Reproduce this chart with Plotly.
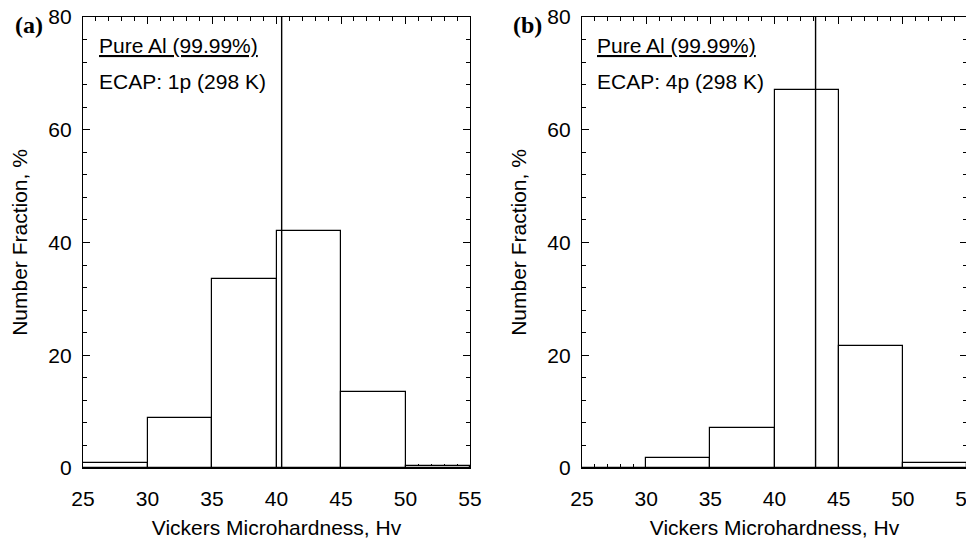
import plotly.graph_objects as go

# ---- data ----
bin_left = [25, 30, 35, 40, 45, 50]
bin_width = 5
frac_1p = [0.8, 8.9, 33.5, 42.1, 13.4, 0.4]
frac_4p = [0.0, 1.7, 7.1, 67.0, 21.6, 0.8]
mean_hv = [40.4, 43.2]
panel_labels = ["(a)", "(b)"]
alloy_text = "Pure Al (99.99%)"
ecap_text = ["ECAP: 1p (298 K)", "ECAP: 4p (298 K)"]
x_ticks = [25, 30, 35, 40, 45, 50, 55]
y_ticks = [0, 20, 40, 60, 80]
x_title = "Vickers Microhardness, Hv"
y_title = "Number Fraction, %"

W, H = 974, 543
OFF = 8  # page body margin offset
FONT = "Liberation Sans, Arial, sans-serif"

fig = go.Figure()

TOP, BOT = 17 - OFF, 468 - OFF
dom_x = [[(83 - OFF) / W, (470 - OFF) / W], [(582 - OFF) / W, (967 - OFF) / W]]
dom_y = [(H - BOT) / H, (H - TOP) / H]

series = [frac_1p, frac_4p]
for i in range(2):
    xa = "x" if i == 0 else "x2"
    ya = "y" if i == 0 else "y2"
    fig.add_trace(go.Bar(
        x=[b + bin_width / 2 for b in bin_left],
        y=series[i],
        width=[bin_width] * len(bin_left),
        marker=dict(color="white", line=dict(color="black", width=1.2)),
        xaxis=xa, yaxis=ya, showlegend=False,
    ))
    fig.add_trace(go.Scatter(
        x=[mean_hv[i], mean_hv[i]], y=[y_ticks[0], y_ticks[-1]],
        mode="lines", line=dict(color="black", width=1.4),
        xaxis=xa, yaxis=ya, showlegend=False, cliponaxis=False,
    ))

axis_common = dict(
    showline=True, linecolor="black", linewidth=1.4, mirror="allticks",
    ticks="inside", ticklen=7, tickwidth=1.2, tickcolor="black",
    showgrid=False, zeroline=False, automargin=False,
    layer="below traces", ticklabeloverflow="allow",
    tickfont=dict(family=FONT, size=21, color="black"),
)

for i in range(2):
    sx = "" if i == 0 else "2"
    fig.layout["xaxis" + sx] = dict(
        axis_common, domain=dom_x[i], range=[x_ticks[0], x_ticks[-1]],
        tickvals=x_ticks, anchor="y" + sx,
        minor=dict(ticks="inside", ticklen=4, dtick=1, tickwidth=1, tickcolor="black"),
        title=dict(text=x_title, font=dict(family=FONT, size=21, color="black"), standoff=10),
        ticklabelstandoff=12,
    )
    fig.layout["yaxis" + sx] = dict(
        axis_common, domain=dom_y, range=[y_ticks[0], y_ticks[-1]],
        tickvals=y_ticks, anchor="x" + sx,
        minor=dict(ticks="inside", ticklen=4, dtick=4, tickwidth=1, tickcolor="black"),
        title=dict(text=y_title, font=dict(family=FONT, size=21, color="black"), standoff=14),
        ticklabelstandoff=6,
    )

annotations = []
for i in range(2):
    sx = "" if i == 0 else "2"
    annotations.append(dict(
        text="<b>" + panel_labels[i] + "</b>", xref="x" + sx + " domain", yref="y" + sx + " domain",
        x=-0.098, y=1.0, xanchor="right", yanchor="middle", showarrow=False,
        font=dict(family="Liberation Serif, Times New Roman, serif", size=24, color="black"),
        yshift=-8,
    ))
    annotations.append(dict(
        text="<u>" + alloy_text + "</u>", xref="x" + sx + " domain", yref="y" + sx + " domain",
        x=0.035, y=(468 - 46) / (468 - 17), xanchor="left", yanchor="middle",
        showarrow=False, font=dict(family=FONT, size=21, color="black"),
    ))
    annotations.append(dict(
        text=ecap_text[i], xref="x" + sx + " domain", yref="y" + sx + " domain",
        x=0.035, y=(468 - 81) / (468 - 17), xanchor="left", yanchor="middle",
        showarrow=False, font=dict(family=FONT, size=21, color="black"),
    ))

fig.update_layout(
    width=W, height=H,
    margin=dict(l=0, r=0, t=0, b=0),
    paper_bgcolor="white", plot_bgcolor="white",
    bargap=0, annotations=annotations,
    font=dict(family=FONT, color="black"),
)

fig.write_html("out.html")
